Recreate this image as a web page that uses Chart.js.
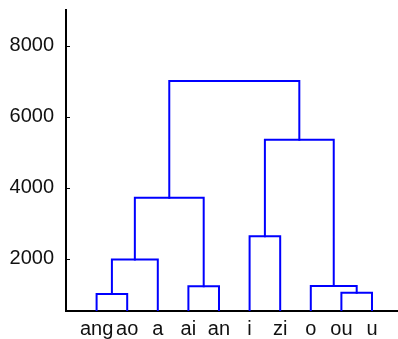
<!DOCTYPE html>
<html>
<head>
<meta charset="utf-8">
<script src="https://cdn.jsdelivr.net/npm/chart.js@4"></script>
<style>
html,body{margin:0;padding:0;background:#fff;overflow:hidden;}
#wrap{width:398px;height:339px;position:relative;}
</style>
</head>
<body>
<div id="wrap"><canvas id="c"></canvas></div>
<script>
// Leaves of the dendrogram (left to right)
const leaves = ['ang','ao','a','ai','an','i','zi','o','ou','u'];
// Linkage: indices < 10 are leaves, index 10+k is the cluster made by merge k
const mergeLeft   = [0, 8, 3, 7, 10, 5, 14, 15, 16];
const mergeRight  = [1, 9, 4, 11, 2, 6, 12, 13, 17];
const mergeHeight = [1010, 1050, 1230, 1240, 1980, 2640, 3720, 5350, 7000];
// Y tick values
const yTicks = [2000, 4000, 6000, 8000];

const n = leaves.length;
const nodeX = [], nodeH = [];
leaves.forEach((l, i) => { nodeX[i] = i + 1; nodeH[i] = 0; });
const datasets = [];
mergeHeight.forEach((h, k) => {
  const a = mergeLeft[k], b = mergeRight[k];
  const id = n + k;
  nodeX[id] = (nodeX[a] + nodeX[b]) / 2;
  nodeH[id] = h;
  datasets.push({
    data: [
      {x: nodeX[a], y: nodeH[a]},
      {x: nodeX[a], y: h},
      {x: nodeX[b], y: h},
      {x: nodeX[b], y: nodeH[b]}
    ],
    borderColor: '#0000ff',
    borderWidth: 2,
    pointRadius: 0,
    fill: false,
    tension: 0,
    borderCapStyle: 'square',
    borderJoinStyle: 'miter'
  });
});

const inwardTicks = {
  id: 'inwardTicks',
  afterDraw(chart) {
    const ctx = chart.ctx, ys = chart.scales.y, a = chart.chartArea;
    ctx.save();
    ctx.strokeStyle = '#000';
    ctx.lineWidth = 1;
    yTicks.forEach(v => {
      const p = Math.round(ys.getPixelForValue(v)) + 0.5;
      ctx.beginPath();
      ctx.moveTo(a.left, p);
      ctx.lineTo(a.left + 4, p);
      ctx.stroke();
    });
    ctx.restore();
  }
};

const font = {family: '"Liberation Sans", Arial, sans-serif', size: 20};

new Chart(document.getElementById('c'), {
  type: 'line',
  data: {datasets},
  plugins: [inwardTicks],
  options: {
    responsive: true,
    maintainAspectRatio: false,
    animation: false,
    layout: {padding: {top: 10, right: 0, left: 0, bottom: 0}},
    plugins: {legend: {display: false}, tooltip: {enabled: false}},
    scales: {
      x: {
        type: 'linear',
        min: 0,
        max: 10.85,
        grid: {display: false, drawTicks: false},
        border: {display: true, color: '#000', width: 2},
        afterBuildTicks(s) { s.ticks = leaves.map((l, i) => ({value: i + 1})); },
        afterFit(s) { s.height = 28; s.paddingLeft = 0; s.paddingRight = 0; },
        ticks: {
          autoSkip: false,
          maxRotation: 0,
          padding: 6,
          color: '#111',
          font,
          callback: (v) => leaves[v - 1] || ''
        }
      },
      y: {
        type: 'linear',
        min: 535,
        max: 9000,
        grid: {display: false, drawTicks: false},
        border: {display: true, color: '#000', width: 2},
        afterBuildTicks(s) { s.ticks = yTicks.map(v => ({value: v})); },
        afterFit(s) { s.width = 66; s.paddingTop = 0; s.paddingBottom = 0; },
        ticks: {
          padding: 12,
          color: '#111',
          font,
          callback: (v) => String(v)
        }
      }
    }
  }
});
</script>
</body>
</html>
